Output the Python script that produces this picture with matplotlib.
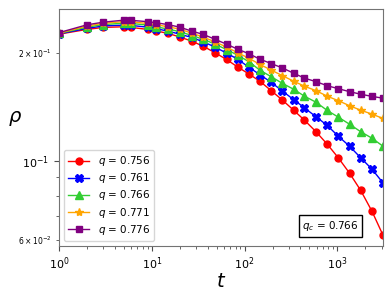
import matplotlib
matplotlib.use("Agg")
import matplotlib.pyplot as plt
import numpy as np

t = [1, 2, 3, 5, 6, 9, 11, 15, 20, 27, 36, 48, 64, 84, 111, 146, 194, 256,
     337, 442, 587, 778, 1023, 1352, 1778, 2360, 3100]

rho_756 = [0.2260, 0.2330, 0.2360, 0.2370, 0.2360, 0.2330, 0.2310, 0.2270,
           0.2220, 0.2160, 0.2090, 0.2005, 0.1920, 0.1830, 0.1750, 0.1670,
           0.1570, 0.1478, 0.1386, 0.1299, 0.1207, 0.1113, 0.1020, 0.0924,
           0.0828, 0.0723, 0.0620]
rho_761 = [0.2264, 0.2345, 0.2383, 0.2395, 0.2390, 0.2364, 0.2342, 0.2304,
           0.2260, 0.2212, 0.2150, 0.2080, 0.2000, 0.1925, 0.1827, 0.1742,
           0.1657, 0.1566, 0.1484, 0.1406, 0.1329, 0.1256, 0.1172, 0.1099,
           0.1021, 0.0948, 0.0868]
rho_766 = [0.2270, 0.2364, 0.2403, 0.2426, 0.2421, 0.2395, 0.2372, 0.2334,
           0.2297, 0.2240, 0.2186, 0.2119, 0.2047, 0.1974, 0.1894, 0.1793,
           0.1718, 0.1646, 0.1586, 0.1516, 0.1459, 0.1383, 0.1325, 0.1266,
           0.1207, 0.1157, 0.1099]
rho_771 = [0.2275, 0.2380, 0.2424, 0.2449, 0.2446, 0.2421, 0.2403, 0.2369,
           0.2334, 0.2275, 0.2217, 0.2150, 0.2080, 0.2006, 0.1936, 0.1860,
           0.1793, 0.1730, 0.1670, 0.1617, 0.1571, 0.1516, 0.1473, 0.1426,
           0.1386, 0.1351, 0.1314]
rho_776 = [0.2282, 0.2400, 0.2441, 0.2473, 0.2470, 0.2449, 0.2433, 0.2403,
           0.2364, 0.2304, 0.2256, 0.2186, 0.2119, 0.2052, 0.1993, 0.1924,
           0.1870, 0.1818, 0.1758, 0.1703, 0.1665, 0.1622, 0.1591, 0.1561,
           0.1536, 0.1514, 0.1497]

labels = ["0.756", "0.761", "0.766", "0.771", "0.776"]
series = [rho_756, rho_761, rho_766, rho_771, rho_776]
colors = ["red", "blue", "limegreen", "orange", "purple"]
markers = ["o", "X", "^", "*", "s"]
msizes = [5, 5.5, 5.5, 6, 5]

fig = plt.figure(figsize=(3.92, 2.94), dpi=100)
ax = fig.add_axes([0.1505, 0.163, 0.8265, 0.806])

for y, lab, c, m, ms in zip(series, labels, colors, markers, msizes):
    ax.plot(t, y, color=c, marker=m, markersize=ms, linewidth=1,
            label=r"$q$ = " + lab)

ax.set_xscale("log")
ax.set_yscale("log")
ax.set_xlim(1, 3100)
ax.set_ylim(0.0578, 0.2655)

for sp in ax.spines.values():
    sp.set_color("0.45")
ax.tick_params(which="both", colors="0.3", labelcolor="black")
ax.tick_params(which="major", labelsize=8)
ax.tick_params(axis="y", which="minor", labelsize=5.5)

ax.set_xlabel(r"$t$", fontsize=14, labelpad=0)
ax.set_ylabel(r"$\rho$", fontsize=14, rotation=0, va="center", ha="center")
ax.yaxis.set_label_coords(-0.137, 0.54)

ax.legend(loc="lower left", fontsize=7.5, handlelength=2, borderpad=0.4,
          labelspacing=0.3, handletextpad=0.8, framealpha=0.8)

ax.text(0.925, 0.085, r"$q_c$ = 0.766", transform=ax.transAxes,
        fontsize=7.5, ha="right", va="center",
        bbox=dict(boxstyle="square,pad=0.35", facecolor="white",
                  edgecolor="black", linewidth=1))

fig.savefig("out.png", dpi=100)
